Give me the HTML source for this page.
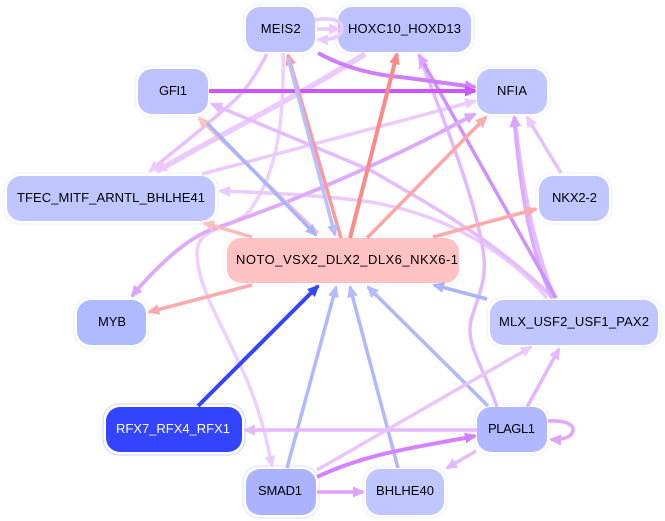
<!DOCTYPE html>
<html><head><meta charset="utf-8"><style>
html,body{margin:0;padding:0;background:#fff}
svg{display:block}
text{font-family:"Liberation Sans",sans-serif;font-size:13px;text-anchor:middle;fill:#000}
.o{fill:#fff;stroke:#eef0ff;stroke-width:1}
path,line{fill:none;stroke-width:3.5}
</style></head><body>
<svg width="665" height="521" viewBox="0 0 665 521" xmlns="http://www.w3.org/2000/svg">
<defs>
<marker id="c1" markerUnits="userSpaceOnUse" markerWidth="14" markerHeight="12" refX="10" refY="6" orient="auto"><path d="M0,.5L12,6L0,11.5z" style="fill:#eccaff;stroke:none"/></marker>
<marker id="c2" markerUnits="userSpaceOnUse" markerWidth="14" markerHeight="12" refX="10" refY="6" orient="auto"><path d="M0,.5L12,6L0,11.5z" style="fill:#e4b8ff;stroke:none"/></marker>
<marker id="c3" markerUnits="userSpaceOnUse" markerWidth="14" markerHeight="12" refX="10" refY="6" orient="auto"><path d="M0,.5L12,6L0,11.5z" style="fill:#dca4ff;stroke:none"/></marker>
<marker id="c4" markerUnits="userSpaceOnUse" markerWidth="14" markerHeight="12" refX="10" refY="6" orient="auto"><path d="M0,.5L12,6L0,11.5z" style="fill:#d580ff;stroke:none"/></marker>
<marker id="c5" markerUnits="userSpaceOnUse" markerWidth="14" markerHeight="12" refX="10" refY="6" orient="auto"><path d="M0,.5L12,6L0,11.5z" style="fill:#cc55ff;stroke:none"/></marker>
<marker id="b1" markerUnits="userSpaceOnUse" markerWidth="14" markerHeight="12" refX="10" refY="6" orient="auto"><path d="M0,.5L12,6L0,11.5z" style="fill:#b4bcff;stroke:none"/></marker>
<marker id="b2" markerUnits="userSpaceOnUse" markerWidth="14" markerHeight="12" refX="10" refY="6" orient="auto"><path d="M0,.5L12,6L0,11.5z" style="fill:#a8b4ff;stroke:none"/></marker>
<marker id="b3" markerUnits="userSpaceOnUse" markerWidth="14" markerHeight="12" refX="10" refY="6" orient="auto"><path d="M0,.5L12,6L0,11.5z" style="fill:#3344ff;stroke:none"/></marker>
<marker id="r1" markerUnits="userSpaceOnUse" markerWidth="14" markerHeight="12" refX="10" refY="6" orient="auto"><path d="M0,.5L12,6L0,11.5z" style="fill:#ff8888;stroke:none"/></marker>
<marker id="r2" markerUnits="userSpaceOnUse" markerWidth="14" markerHeight="12" refX="10" refY="6" orient="auto"><path d="M0,.5L12,6L0,11.5z" style="fill:#ff9999;stroke:none"/></marker>
<marker id="r3" markerUnits="userSpaceOnUse" markerWidth="14" markerHeight="12" refX="10" refY="6" orient="auto"><path d="M0,.5L12,6L0,11.5z" style="fill:#ffaaaa;stroke:none"/></marker>
<marker id="r4" markerUnits="userSpaceOnUse" markerWidth="14" markerHeight="12" refX="10" refY="6" orient="auto"><path d="M0,.5L12,6L0,11.5z" style="fill:#ffc0c0;stroke:none"/></marker>
</defs>

<!-- nodes -->
<rect class="o" x="243" y="4" width="75" height="51" rx="16"/><rect x="246" y="7" width="69" height="45" rx="14" fill="#bcc2ff"/>
<rect class="o" x="335" y="4" width="139" height="51" rx="16"/><rect x="338" y="7" width="133" height="45" rx="14" fill="#bcc2ff"/>
<rect class="o" x="135" y="66" width="76" height="51" rx="16"/><rect x="138" y="69" width="70" height="45" rx="14" fill="#bcc2ff"/>
<rect class="o" x="474" y="66" width="76" height="51" rx="16"/><rect x="477" y="69" width="70" height="45" rx="14" fill="#c0c6ff"/>
<rect class="o" x="4" y="173" width="214" height="51" rx="16"/><rect x="7" y="176" width="208" height="45" rx="14" fill="#c0c6ff"/>
<rect class="o" x="536" y="173" width="76" height="51" rx="16"/><rect x="539" y="176" width="70" height="45" rx="14" fill="#c0c6ff"/>
<rect class="o" x="224" y="235" width="238" height="51" rx="16" style="stroke:#fff0f0"/><rect x="227" y="238" width="232" height="45" rx="14" fill="#ffc2c2"/>
<rect class="o" x="74" y="297" width="75" height="51" rx="16"/><rect x="77" y="300" width="69" height="45" rx="14" fill="#b0baff"/>
<rect class="o" x="487" y="297" width="174" height="51" rx="16"/><rect x="490" y="300" width="168" height="45" rx="14" fill="#c0c6ff"/>
<rect class="o" x="103" y="404" width="142" height="51" rx="16" style="stroke:#ccd2ff"/><rect x="106" y="407" width="136" height="45" rx="14" fill="#3344ff"/>
<rect class="o" x="474" y="404" width="76" height="51" rx="16"/><rect x="477" y="407" width="70" height="45" rx="14" fill="#b0b8ff"/>
<rect class="o" x="243" y="466" width="76" height="52" rx="16" style="stroke:#dfe2ff"/><rect x="246" y="469" width="70" height="46" rx="14" fill="#abb3ff"/>
<rect class="o" x="363" y="466" width="84" height="52" rx="16"/><rect x="366" y="469" width="78" height="46" rx="14" fill="#c0c6ff"/>

<!-- edges -->
<path d="M315,20C330,17 343,20 342,29C342,37 331,40 318,39.500" stroke="#eccaff" marker-end="url(#c1)"/>
<line x1="317" y1="29" x2="339" y2="29" stroke="#eccaff" marker-end="url(#c1)"/>
<path d="M365,54C300,95 220,135 157,171" stroke="#eccaff" style="stroke-width:5.500" marker-end="url(#c1)"/>
<path d="M267,54C245,95 235,100 220,113C195,135 175,150 150,171" stroke="#e8c0ff" marker-end="url(#c1)"/>
<path d="M283,53C284,110 280,170 250,210C235,230 195,225 197,255C199,290 220,320 240,365C255,395 265,430 272,466" stroke="#eed0ff" marker-end="url(#c1)"/>
<line x1="202" y1="174" x2="475" y2="101" stroke="#eccaff" marker-end="url(#c1)"/>
<path d="M547,298C510,255 450,215 370,202C330,196 280,193 220,191" stroke="#eccaff" marker-end="url(#c1)"/>
<path d="M553,298C500,245 440,210 370,170L212,104" stroke="#e4bcff" marker-end="url(#c2)"/>
<path d="M497,407C485,370 465,345 471,320C478,295 488,280 483,250C475,200 450,135 420,58" stroke="#e4b8ff" marker-end="url(#c2)"/>
<path d="M555,298C537,255 523,195 515,117" stroke="#e4bcff" marker-end="url(#c2)"/>
<path d="M552,298C530,250 520,190 514,117" stroke="#dcaaff" marker-end="url(#c3)"/>
<line x1="561" y1="173" x2="527" y2="117" stroke="#e8c0ff" marker-end="url(#c1)"/>
<line x1="556" y1="298" x2="419" y2="55" stroke="#cf90ff" marker-end="url(#c3)"/>
<path d="M475,114C400,155 300,200 210,230C185,240 155,268 132,296" stroke="#dfa8ff" style="stroke-width:3.800" marker-end="url(#c3)"/>
<line x1="440" y1="132" x2="475" y2="114" stroke="#dfa8ff" marker-end="url(#c3)"/>
<path d="M318,53C345,68 375,75 400,77C425,80 450,84 475,87" stroke="#d07cff" style="stroke-width:4" marker-end="url(#c4)"/>
<line x1="209" y1="91" x2="475" y2="91" stroke="#cc55ff" style="stroke-width:4" marker-end="url(#c5)"/>
<line x1="341" y1="238" x2="288" y2="55" stroke="#ff9999" marker-end="url(#r2)"/>
<line x1="288" y1="58" x2="335" y2="235" stroke="#b8c0ff" marker-end="url(#b1)"/>
<line x1="318" y1="233" x2="199" y2="118" stroke="#ffc0c0" marker-end="url(#r4)"/>
<line x1="207" y1="123" x2="316" y2="235" stroke="#a8b4ff" marker-end="url(#b2)"/>
<line x1="350" y1="238" x2="397" y2="54" stroke="#ff8888" style="stroke-width:4" marker-end="url(#r1)"/>
<line x1="367" y1="238" x2="486" y2="117" stroke="#ffa5a5" marker-end="url(#r3)"/>
<line x1="433" y1="237" x2="536" y2="209" stroke="#ffaaaa" marker-end="url(#r3)"/>
<line x1="252" y1="237" x2="204" y2="223" stroke="#ffb8b8" marker-end="url(#r4)"/>
<line x1="252" y1="285" x2="149" y2="312" stroke="#ffaaaa" marker-end="url(#r3)"/>
<line x1="487" y1="299" x2="434" y2="285" stroke="#a8b4ff" marker-end="url(#b2)"/>
<line x1="488" y1="406" x2="368" y2="287" stroke="#b0b8ff" marker-end="url(#b1)"/>
<line x1="287" y1="468" x2="336" y2="287" stroke="#b0b8ff" marker-end="url(#b1)"/>
<line x1="398" y1="468" x2="350" y2="287" stroke="#b0b8ff" marker-end="url(#b1)"/>
<line x1="198" y1="406" x2="318" y2="286" stroke="#3344ff" style="stroke-width:4" marker-end="url(#b3)"/>
<line x1="477" y1="430" x2="245" y2="430" stroke="#e6b8ff" marker-end="url(#c2)"/>
<line x1="317" y1="470" x2="531" y2="347" stroke="#eac4ff" marker-end="url(#c1)"/>
<path d="M317,477C370,452 420,447 475,436" stroke="#d580ff" style="stroke-width:4" marker-end="url(#c4)"/>
<line x1="317" y1="492" x2="363" y2="492" stroke="#dfa0ff" marker-end="url(#c3)"/>
<line x1="476" y1="451" x2="447" y2="468" stroke="#e4bcff" marker-end="url(#c2)"/>
<line x1="527" y1="407" x2="559" y2="349" stroke="#e4b4ff" marker-end="url(#c2)"/>
<path d="M548,421C565,420 573,424 573,430C573,436 565,440 551,439.500" stroke="#e0a8ff" marker-end="url(#c3)"/>

<!-- labels -->
<text x="280.700" y="33" textLength="40">MEIS2</text>
<text x="404.500" y="33" textLength="113">HOXC10_HOXD13</text>
<text x="173" y="95" textLength="28">GFI1</text>
<text x="512" y="95" textLength="30">NFIA</text>
<text x="111" y="202" textLength="188">TFEC_MITF_ARNTL_BHLHE41</text>
<text x="574.500" y="202" textLength="45">NKX2-2</text>
<text x="347" y="264" textLength="222">NOTO_VSX2_DLX2_DLX6_NKX6-1</text>
<text x="112" y="326" textLength="28">MYB</text>
<text x="574" y="326" textLength="150">MLX_USF2_USF1_PAX2</text>
<text x="173" y="433" textLength="114" style="fill:#fff">RFX7_RFX4_RFX1</text>
<text x="511.500" y="433" textLength="47">PLAGL1</text>
<text x="280" y="495" textLength="44">SMAD1</text>
<text x="405" y="495" textLength="58">BHLHE40</text>
</svg>
</body></html>
